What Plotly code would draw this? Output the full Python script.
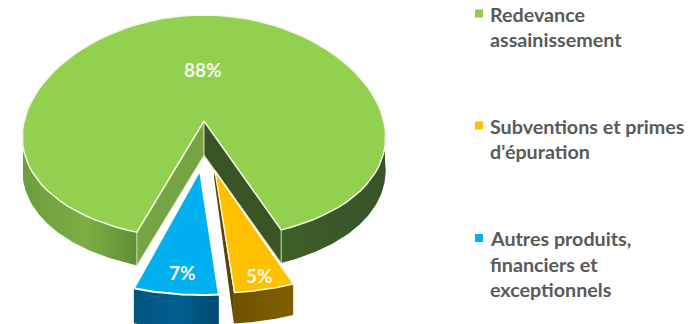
import numpy as np
import plotly.graph_objects as go

# Revenue shares, in percent, listed clockwise from the gap in the green slice
categories = ["Redevance assainissement", "Subventions et primes d'épuration",
              "Autres produits, financiers et exceptionnels"]
shares = [88, 5, 7]
share_labels = ["88%", "5%", "7%"]
legend_lines = [["Redevance", "assainissement"],
                ["Subventions et primes", "d'épuration"],
                ["Autres produits,", "financiers et", "exceptionnels"]]

# Pixel-like plot space and tilted-disc projection
W, H = 689, 324
CX, CY, RX, RY, PERSP = 204, 127, 181, 112, 0.09
APEX = (204, 121)
FIRST_EDGE = 23.2      # degrees from the front of the disc to the start of the green slice

TOP = ["#92D050", "#FFC000", "#00B0F0"]
GREY = "#595959"


def project(a_deg, dx=0.0, dy=0.0, drop=0.0):
    a = np.radians(a_deg)
    x = CX + RX * np.sin(a) * (1 + PERSP * np.cos(a)) + dx
    y = CY + RY * np.cos(a) + dy + drop
    return x, y


def arc(a0, a1, dx=0.0, dy=0.0, drop=0.0, n=90):
    return project(np.linspace(a0, a1, n), dx, dy, drop)


fig = go.Figure()


def poly(xs, ys, fill=None, grad=None, line="rgba(0,0,0,0)", lw=0):
    xs = list(xs) + [xs[0]]
    ys = list(ys) + [ys[0]]
    kw = dict(fillgradient=dict(type="horizontal", colorscale=grad)) if grad else dict(fillcolor=fill)
    fig.add_trace(go.Scatter(x=xs, y=ys, mode="lines", fill="toself",
                             line=dict(color=line, width=lw),
                             hoverinfo="skip", showlegend=False, **kw))


def rim(a0, a1, depth, dx=0.0, dy=0.0, **style):
    xt, yt = arc(a0, a1, dx, dy)
    xb, yb = arc(a1, a0, dx, dy, depth)
    poly(np.r_[xt, xb], np.r_[yt, yb], **style)


# Slice boundaries from the shares; angle 0 is the front of the disc, growing to the right
spans = [s * 3.6 for s in shares]
green_start = FIRST_EDGE
green_end = green_start + spans[0]
orange_end = green_start
orange_start = orange_end - spans[1]
blue_end = orange_start
blue_start = blue_end - spans[2]

# Main slice: outer wall split at the far side, inner walls, then the top face
DEPTH = 33
APEX_DROP = 34
rim(green_start, 90, DEPTH, grad=[[0, "#3F5F27"], [1, "#37532A"]])
rim(green_end - 360, 270 - 360, DEPTH,
    grad=[[0, "#6E9D3D"], [0.55, "#7BAE44"], [1, "#5F8F36"]])

lx, ly = project(green_end - 360)
rx, ry = project(green_start)
poly([APEX[0], lx, lx, APEX[0]], [APEX[1], ly, ly + DEPTH, APEX[1] + APEX_DROP],
     fill="#76A444", line="#C9DDB0", lw=1)
poly([APEX[0], rx, rx, APEX[0]], [APEX[1], ry, ry + DEPTH, APEX[1] + APEX_DROP],
     fill="#3A5524", line="#C9DDB0", lw=1)

xt, yt = arc(green_start, green_end)
poly(np.r_[APEX[0], xt], np.r_[APEX[1], yt], fill=TOP[0], line="#F3F8EA", lw=1.5)

# Pulled-out blue slice
B_DX, B_DY, B_DEPTH = -3, 56, 35
rim(blue_start, blue_end, B_DEPTH, dx=B_DX, dy=B_DY,
    grad=[[0, "#00557F"], [0.5, "#005F8F"], [1, "#004A73"]])
xt, yt = arc(blue_start, blue_end, B_DX, B_DY)
poly(np.r_[APEX[0] + B_DX - 1, xt], np.r_[APEX[1] + 49, yt], fill=TOP[2], line="#FFFFFF", lw=2)

# Pulled-out orange slice with its narrow inner wall
O_DX, O_DY, O_DEPTH = 12, 54, 31
ax, ay = APEX[0] + 11, APEX[1] + 50
cx, cy = project(orange_start, O_DX, O_DY)
poly([ax, cx, cx, ax - 1], [ay, cy, cy + O_DEPTH, ay + 6], fill="#5A4300")
rim(orange_start, orange_end, O_DEPTH, dx=O_DX, dy=O_DY,
    grad=[[0, "#6F5200"], [1, "#7F6000"]])
xt, yt = arc(orange_start, orange_end, O_DX, O_DY)
poly(np.r_[ax, xt], np.r_[ay, yt], fill=TOP[1], line="#FFF6DC", lw=1.5)

# Legend swatches
legend_y = [13.5, 125.5, 238]
fig.add_trace(go.Scatter(x=[479, 479, 479], y=legend_y, mode="markers",
                         marker=dict(symbol="square", size=8, color=TOP),
                         hoverinfo="skip", showlegend=False))

annotations = []
for lines, y0 in zip(legend_lines, legend_y):
    for i, line in enumerate(lines):
        annotations.append(dict(x=488, y=y0 + 0.5 + i * 25.7, text=line, xanchor="left", yanchor="middle",
                                showarrow=False, font=dict(color=GREY, size=19.7, family="Lato", weight="bold")))
for text, x, y in zip(share_labels, [203, 259, 182], [69, 275, 272]):
    annotations.append(dict(x=x, y=y, text=text, showarrow=False,
                            font=dict(color="#F4F9EC", size=19, family="Lato", weight="bold")))

fig.update_layout(
    width=W, height=H, margin=dict(l=0, r=0, t=0, b=0),
    paper_bgcolor="white", plot_bgcolor="white", showlegend=False,
    xaxis=dict(range=[0, W], visible=False, fixedrange=True),
    yaxis=dict(range=[H, 0], visible=False, fixedrange=True),
    annotations=annotations,
)

fig.write_html("out.html", config=dict(displayModeBar=False))
